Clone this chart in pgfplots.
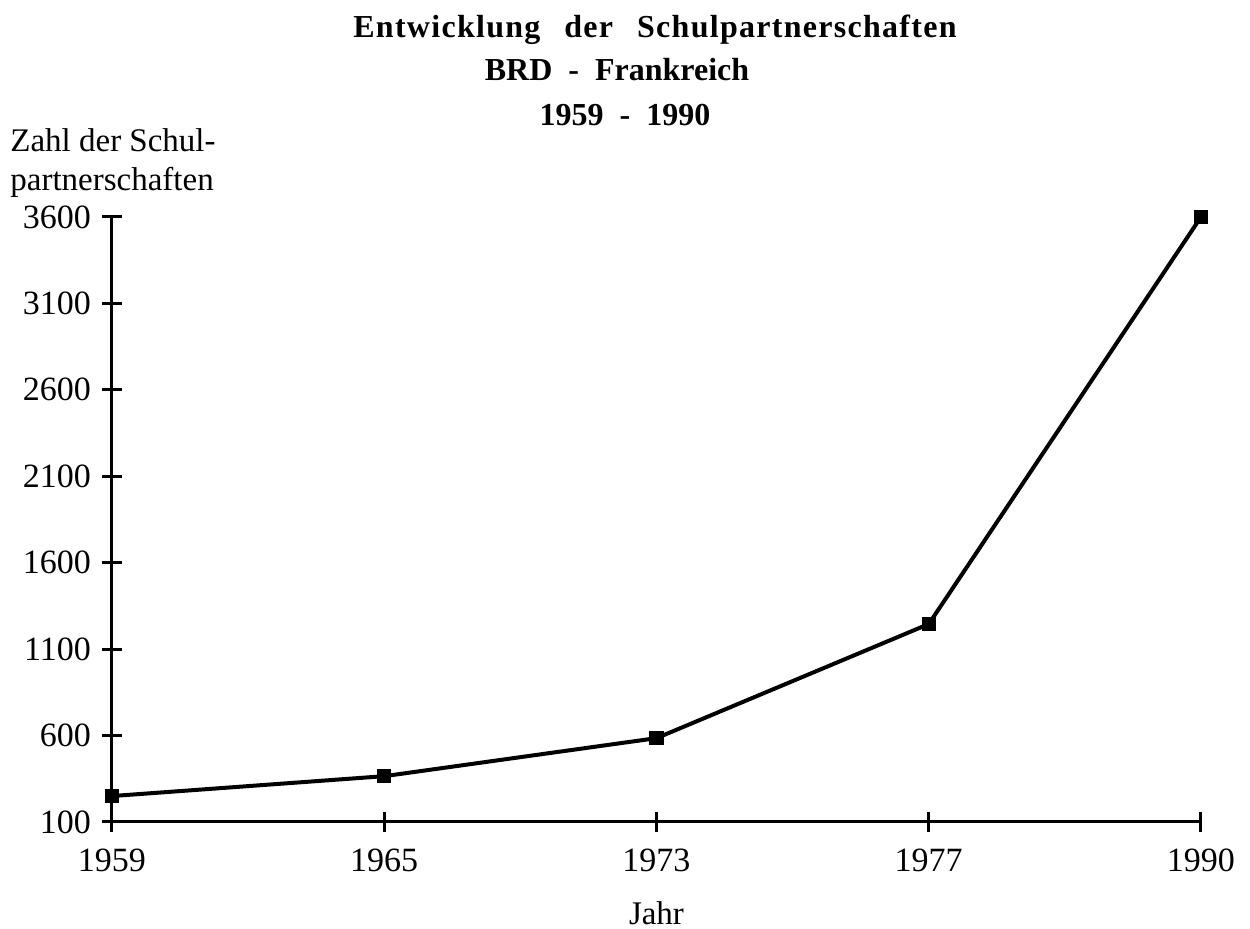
\documentclass[border=0pt]{standalone}
\usepackage{pgfplots}
\pgfplotsset{compat=1.18}
\usepackage{fontspec}
\setmainfont{Liberation Serif}
\begin{document}
\fontsize{16}{19}\selectfont
\begin{tikzpicture}
\begin{axis}[
  at={(0,0)}, anchor=south west,
  scale only axis,
  width=544.5pt, height=302.5pt,
  xmin=0, xmax=4, ymin=100, ymax=3600,
  axis x line=bottom, axis y line=left,
  axis line style={-, line width=1.5pt},
  xtick={0,1,2,3,4},
  xticklabels={1959,1965,1973,1977,1990},
  ytick={100,600,1100,1600,2100,2600,3100,3600},
  tick align=center,
  major tick length=10pt,
  every tick/.style={black, line width=1.5pt},
  /pgf/number format/assume math mode=true,
  /pgf/number format/set thousands separator={},
  ticklabel style={font=\fontsize{17}{20}\selectfont},
  xticklabel style={yshift=-3pt},
  yticklabel style={xshift=0pt},
  xlabel={Jahr},
  xlabel style={font=\fontsize{16.5}{19}\selectfont, yshift=-4pt},
  clip=false,
]
\addplot[black, line width=2pt, mark=square*, mark size=2.6pt, mark options={solid}]
  coordinates {(0,250) (1,365) (2,585) (3,1245) (4,3600)};
\end{axis}
\node[anchor=center, font=\fontsize{16}{19}\selectfont\bfseries\addfontfeature{LetterSpace=4}] at (271.5pt,396pt) {Entwicklung\hspace{12pt}der\hspace{12pt}Schulpartnerschaften};
\node[anchor=center, font=\fontsize{16}{19}\selectfont\bfseries] at (252.5pt,376pt) {BRD\ \ -\ \ Frankreich};
\node[anchor=center, font=\fontsize{16}{19}\selectfont\bfseries] at (256.5pt,353.5pt) {1959\ \ -\ \ 1990};
\node[anchor=north west, align=left, inner sep=0pt, font=\fontsize{16.5}{16.5}\selectfont] at (-51pt,347pt) {Zahl der Schul-\\[3pt]partnerschaften};
\pgfresetboundingbox
\path[use as bounding box] (-56pt,-53.5pt) rectangle (569pt,411pt);
\end{tikzpicture}
\end{document}
